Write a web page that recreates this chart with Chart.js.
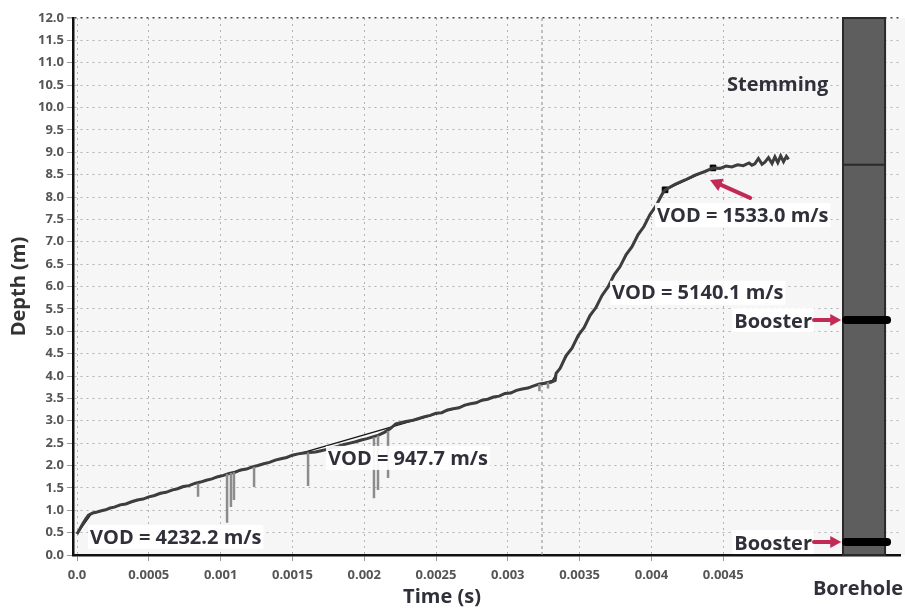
<!DOCTYPE html>
<html><head><meta charset="utf-8">
<script src="https://cdn.jsdelivr.net/npm/chart.js@4.4.1/dist/chart.umd.min.js"></script>
<style>html,body{margin:0;padding:0;background:#fff;}#wrap{width:905px;height:609px;position:relative;}</style>
</head><body><div id="wrap"><canvas id="c" width="905" height="609"></canvas></div>
<script>
// ---------- DATA ----------
const traceTime = [
0.00000,0.00002,0.00004,0.00006,0.00008,0.00011,0.00014,0.00017,0.00020,0.00023,
0.00026,0.00030,0.00034,0.00038,0.00042,0.00046,0.00050,0.00054,0.00058,0.00062,
0.00066,0.00070,0.00074,0.00078,0.00082,0.00086,0.00090,0.00094,0.00098,0.00102,
0.00106,0.00110,0.00114,0.00118,0.00122,0.00126,0.00130,0.00134,0.00138,0.00142,
0.00146,0.00150,0.00154,0.00158,0.00162,0.00166,0.00170,0.00174,0.00178,0.00182,
0.00186,0.00190,0.00194,0.00198,0.00202,0.00206,0.00210,0.00214,0.00218,0.00222,
0.00226,0.00230,0.00234,0.00238,0.00242,0.00246,0.00250,0.00254,0.00258,0.00262,
0.00266,0.00270,0.00274,0.00278,0.00282,0.00286,0.00290,0.00294,0.00298,0.00302,
0.00306,0.00310,0.00314,0.00318,0.00322,0.00326,0.00330,0.00333,
0.003336,0.003364,0.003405,0.003447,0.003489,0.003531,0.003572,0.003614,0.003656,0.003698,
0.003740,0.003781,0.003823,0.003865,0.003907,0.003948,0.003990,0.004032,0.004074,0.004095,
0.004164,0.004234,0.004304,0.004373,0.004429,0.004478,0.004520,0.004560,0.004600,0.004640,
0.004680,0.004700,0.004720,0.004745,0.004770,0.004790,0.004815,0.004840,0.004860,0.004880,
0.004900,0.004920,0.004940,0.004955];
const traceDepth = [
0.47,0.58,0.70,0.80,0.89,0.94,0.96,0.99,1.01,1.05,
1.07,1.12,1.14,1.19,1.23,1.25,1.30,1.33,1.38,1.40,
1.45,1.48,1.53,1.55,1.60,1.63,1.67,1.70,1.75,1.78,
1.82,1.85,1.90,1.92,1.97,2.00,2.04,2.07,2.12,2.15,
2.18,2.23,2.26,2.28,2.29,2.30,2.33,2.36,2.40,2.43,
2.47,2.50,2.53,2.57,2.60,2.64,2.68,2.74,2.82,2.93,
2.96,2.99,3.01,3.05,3.09,3.12,3.17,3.18,3.24,3.27,
3.29,3.35,3.38,3.40,3.46,3.48,3.53,3.55,3.61,3.62,
3.68,3.71,3.73,3.78,3.82,3.84,3.86,3.90,
4.06,4.17,4.45,4.62,4.90,5.08,5.35,5.53,5.80,5.99,
6.26,6.44,6.71,6.89,7.16,7.34,7.61,7.80,8.06,8.16,
8.28,8.38,8.49,8.57,8.65,8.64,8.69,8.67,8.72,8.70,
8.76,8.71,8.74,8.86,8.73,8.78,8.88,8.75,8.90,8.77,
8.92,8.79,8.91,8.84];

// downward noise spikes of the raw signal
const spikeTime   = [0.000843,0.001045,0.001072,0.001093,0.001233,0.001609,0.002068,0.002096,0.002166,0.00322,0.00328];
const spikeTop    = [1.60,1.81,1.83,1.85,1.97,2.29,2.63,2.67,2.77,3.82,3.86];
const spikeBottom = [1.30,0.72,1.07,1.23,1.52,1.54,1.27,1.45,1.72,3.66,3.72];

// fitted VOD segments
const fitLabels     = ['VOD = 4232.2 m/s','VOD = 947.7 m/s','VOD = 5140.1 m/s','VOD = 1533.0 m/s'];
const fitStartTime  = [0.00000,0.00010,0.00331,0.004095];
const fitStartDepth = [0.47,0.92,3.90,8.16];
const fitEndTime    = [0.00010,0.00331,0.004095,0.004429];
const fitEndDepth   = [0.92,3.90,8.16,8.65];

// break points (black squares)
const breakTime  = [0.004095,0.004429];
const breakDepth = [8.16,8.65];

// axis ticks
const xTickValues = [0,0.0005,0.001,0.0015,0.002,0.0025,0.003,0.0035,0.004,0.0045];
const xTickLabels = ['0.0','0.0005','0.001','0.0015','0.002','0.0025','0.003','0.0035','0.004','0.0045'];
const yTickValues = [0,0.5,1,1.5,2,2.5,3,3.5,4,4.5,5,5.5,6,6.5,7,7.5,8,8.5,9,9.5,10,10.5,11,11.5,12];
const yTickLabels = ['0.0','0.5','1.0','1.5','2.0','2.5','3.0','3.5','4.0','4.5','5.0','5.5','6.0','6.5','7.0','7.5','8.0','8.5','9.0','9.5','10.0','10.5','11.0','11.5','12.0'];

// borehole column
const boreholeTime    = [0.005334,0.005627];
const stemmingDepth   = [8.72,12.0];
const boosterDepths   = [5.25,0.29];

// ---------- LAYOUT / STYLE (annotation placement) ----------
const FONT = "'Open Sans', 'DejaVu Sans', sans-serif";
const TEXT = '#30303a';
const RED = '#c22a55';
const labelPos = [ // [time, depth] of each VOD label (left, middle)
  [0.0000905,0.40],[0.001748,2.17],[0.003726,5.86],[0.004039,7.60]];
const stemmingPos = [0.004526,10.50];
const boosterLabelRight = 0.005118;
const boosterArrow = [0.005132,0.005322];
const boosterBar = [0.005334,0.005662];
const vodArrow = {tail:[0.004687,7.98], head:[0.004408,8.38]};
const markerTime = 0.003238;

const pts = (xs, ys) => xs.map((v,i)=>({x:v,y:ys[i]}));
const spikeData = [];
spikeTime.forEach((t,i)=>{ spikeData.push({x:t,y:spikeTop[i]},{x:t,y:spikeBottom[i]},{x:t,y:null}); });
const fitData = [];
fitStartTime.forEach((t,i)=>{ fitData.push({x:t,y:fitStartDepth[i]},{x:fitEndTime[i],y:fitEndDepth[i]},{x:fitEndTime[i],y:null}); });

function arrow(ctx,x1,y1,x2,y2,w,head){
  const a=Math.atan2(y2-y1,x2-x1);
  ctx.save();ctx.strokeStyle=RED;ctx.fillStyle=RED;ctx.lineWidth=w;ctx.lineCap='round';
  ctx.beginPath();ctx.moveTo(x1,y1);ctx.lineTo(x2-Math.cos(a)*head*0.8,y2-Math.sin(a)*head*0.8);ctx.stroke();
  ctx.beginPath();ctx.moveTo(x2,y2);
  ctx.lineTo(x2-head*Math.cos(a)+head*0.55*Math.sin(a),y2-head*Math.sin(a)-head*0.55*Math.cos(a));
  ctx.lineTo(x2-head*Math.cos(a)-head*0.55*Math.sin(a),y2-head*Math.sin(a)+head*0.55*Math.cos(a));
  ctx.closePath();ctx.fill();ctx.restore();
}

const annot = {
  id:'annot',
  beforeDraw(chart){
    const {ctx, chartArea:a} = chart;
    ctx.save();ctx.fillStyle='#f6f6f6';ctx.fillRect(a.left,a.top,chart.width-a.left,a.bottom-a.top);ctx.restore();
  },
  beforeDatasetsDraw(chart){
    const {ctx} = chart, X=chart.scales.x, Y=chart.scales.y;
    const mx = X.getPixelForValue(markerTime);
    ctx.save();ctx.strokeStyle='#8a8a8a';ctx.lineWidth=1;ctx.setLineDash([3,3]);
    ctx.beginPath();ctx.moveTo(mx,Y.top);ctx.lineTo(mx,Y.bottom);ctx.stroke();ctx.restore();
    const bl=X.getPixelForValue(boreholeTime[0]), br=X.getPixelForValue(boreholeTime[1]);
    const yt=Y.getPixelForValue(12), yb=Y.getPixelForValue(0), ys=Y.getPixelForValue(stemmingDepth[0]);
    ctx.save();
    ctx.fillStyle='#5e5e5e';ctx.fillRect(bl,yt,br-bl,yb-yt);
    ctx.strokeStyle='#2a2a2a';ctx.lineWidth=2;ctx.strokeRect(bl,yt,br-bl,yb-yt);
    ctx.beginPath();ctx.moveTo(bl,ys);ctx.lineTo(br,ys);ctx.stroke();
    ctx.restore();
  },
  afterDatasetsDraw(chart){
    const {ctx} = chart, X=chart.scales.x, Y=chart.scales.y;
    ctx.save();
    ctx.font = 'bold 20px '+FONT;ctx.textBaseline='middle';
    fitLabels.forEach((s,i)=>{
      const px=X.getPixelForValue(labelPos[i][0]), py=Y.getPixelForValue(labelPos[i][1]);
      const w=ctx.measureText(s).width;
      ctx.fillStyle='rgba(255,255,255,0.92)';ctx.fillRect(px-2,py-12,w+4,24);
      ctx.fillStyle=TEXT;ctx.textAlign='left';ctx.fillText(s,px,py+1);
    });
    ctx.fillStyle=TEXT;ctx.textAlign='left';
    ctx.fillText('Stemming',X.getPixelForValue(stemmingPos[0]),Y.getPixelForValue(stemmingPos[1]));
    boosterDepths.forEach(d=>{
      const py=Y.getPixelForValue(d);
      const w=ctx.measureText('Booster').width, rx=X.getPixelForValue(boosterLabelRight);
      ctx.fillStyle='rgba(255,255,255,0.92)';ctx.fillRect(rx-w-2,py-12,w+4,24);
      ctx.fillStyle=TEXT;ctx.textAlign='right';ctx.fillText('Booster',rx,py+2);
      arrow(ctx,X.getPixelForValue(boosterArrow[0]),py,X.getPixelForValue(boosterArrow[1]),py,4,11);
      ctx.save();ctx.strokeStyle='#000';ctx.lineWidth=8;ctx.lineCap='round';
      ctx.beginPath();ctx.moveTo(X.getPixelForValue(boosterBar[0])+3,py);ctx.lineTo(X.getPixelForValue(boosterBar[1])-3,py);ctx.stroke();ctx.restore();
    });
    arrow(ctx,X.getPixelForValue(vodArrow.tail[0]),Y.getPixelForValue(vodArrow.tail[1]),
              X.getPixelForValue(vodArrow.head[0]),Y.getPixelForValue(vodArrow.head[1]),4,12);
    ctx.fillStyle=TEXT;ctx.textAlign='center';ctx.textBaseline='middle';
    ctx.fillText('Time (s)',442,597);
    ctx.fillText('Borehole',858,589);
    ctx.restore();
  }
};

function build(){
  Chart.defaults.font.family = FONT;
  new Chart(document.getElementById('c'),{
    type:'line',
    data:{datasets:[
      {label:'Raw spikes',data:spikeData,borderColor:'#8c8c8c',borderWidth:2.5,pointRadius:0,spanGaps:false,fill:false},
      {label:'Signal',data:pts(traceTime,traceDepth),borderColor:'#3d3d3d',borderWidth:3,pointRadius:0,tension:0,fill:false},
      {label:'VOD fit',data:fitData,borderColor:'#151515',borderWidth:1.3,pointRadius:0,spanGaps:false,fill:false},
      {label:'Breaks',data:pts(breakTime,breakDepth),showLine:false,pointStyle:'rect',pointRadius:4,pointBackgroundColor:'#000',pointBorderColor:'#000'}
    ]},
    options:{
      responsive:false,animation:false,devicePixelRatio:1,
      layout:{padding:{top:18,left:0,right:0,bottom:0}},
      plugins:{legend:{display:false},tooltip:{enabled:false}},
      scales:{
        x:{type:'linear',min:-0.0000279,max:0.005731,
          afterBuildTicks:s=>{s.ticks=xTickValues.map(v=>({value:v}));},
          afterFit:s=>{s.height=54;s.paddingLeft=0;s.paddingRight=0;},
          ticks:{callback:(v,i)=>xTickLabels[i],color:'#555',font:{size:13,weight:'bold'},padding:6,maxRotation:0,autoSkip:false},
          grid:{color:'#b3b3b3',lineWidth:1,tickLength:6,tickColor:'#999'},
          border:{display:true,color:'#111',width:2.5,dash:[2,4]}
        },
        y:{type:'linear',min:0,max:12,
          afterBuildTicks:s=>{s.ticks=yTickValues.map(v=>({value:v}));},
          afterFit:s=>{s.width=73;s.paddingTop=0;s.paddingBottom=0;},
          ticks:{callback:(v,i)=>yTickLabels[i],color:'#555',font:{size:13,weight:'bold'},padding:3,autoSkip:false},
          grid:{color:c=>(c.tick&&c.tick.value===12)?'#444':'#b3b3b3',lineWidth:c=>(c.tick&&c.tick.value===12)?1.6:1,tickLength:6,tickColor:'#999'},
          border:{display:true,color:'#111',width:2.5,dash:[2,4]},
          title:{display:true,text:'Depth (m)',color:'#333',font:{size:20,weight:'bold'},padding:{top:7,bottom:0}}
        }
      }
    },
    plugins:[annot]
  });
}
if (document.fonts && document.fonts.load) {
  Promise.all([document.fonts.load("bold 20px 'Open Sans'"),document.fonts.load("bold 13px 'Open Sans'")]).then(build,build);
} else build();
</script></body></html>
